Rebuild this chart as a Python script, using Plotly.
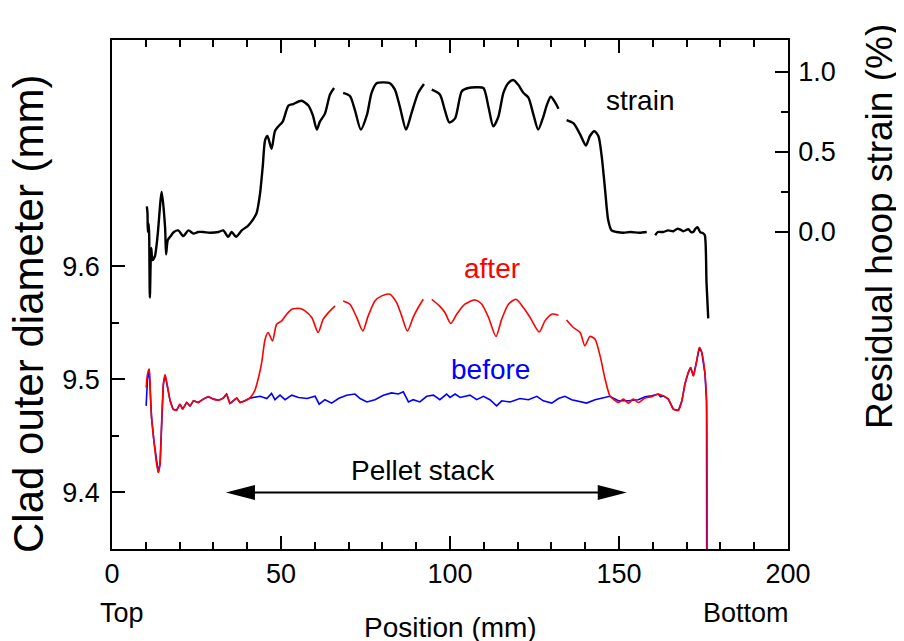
import plotly.graph_objects as go

# ---------------- data ----------------
STRAIN_X = [10.3, 10.5, 10.6, 10.9, 11.2, 11.6, 12.0, 12.7, 13.5, 14.7, 15.7, 16.0, 16.5, 17.2,
            18.3, 19.6, 21.1, 22.6, 24.1, 25.5, 27.0, 29.0, 31.5, 32.9, 34.4, 35.4, 36.7, 38.4,
            40.3, 41.8, 42.8, 43.8, 44.6, 45.3, 46.0, 47.2, 48.2, 49.2, 50.5, 52.2, 53.6, 56.1,
            58.1, 59.4, 60.6, 61.5, 63.0, 64.5, 65.7, 66.9, 68.4, 70.4, 71.9, 73.6, 75.4, 76.8,
            78.3, 80.3, 82.2, 83.7, 85.2, 87.0, 88.7, 90.6, 92.3, 93.4, 94.6, 97.0, 98.5, 99.8,
            101.5, 103.5, 105.4, 107.9, 109.9, 111.4, 112.8, 114.3, 115.8, 117.2, 118.7, 120.2,
            121.7, 123.2, 124.6, 126.1, 127.6, 128.6, 129.8, 131.1, 132.1, 133.3, 134.5, 136.5,
            138.5, 140.2, 141.4, 142.7, 143.9, 144.9, 145.9, 146.8, 147.8, 149.3, 151.3, 153.3,
            156.0, 158.2, 159.5, 160.7, 161.5, 163.1, 164.5, 166.1, 167.2, 168.0, 169.0, 170.5,
            171.3, 172.0, 172.6, 173.2, 174.0, 175.0, 175.4, 175.9, 176.4]
STRAIN_Y = [0.16, 0.12, 0.0, 0.05, -0.41, -0.10, -0.175, -0.15, -0.02, 0.25, 0.03, -0.14, -0.05, -0.03,
            0.0, 0.01, -0.025, 0.01, -0.01, 0.0, 0.0, -0.005, 0.0, 0.01, -0.03, 0.0, -0.03, 0.01,
            0.04, 0.08, 0.12, 0.24, 0.41, 0.575, 0.60, 0.52, 0.63, 0.66, 0.69, 0.79, 0.80, 0.82,
            0.79, 0.73, 0.64, 0.69, 0.74, 0.86, 0.90, None, 0.87, 0.85, 0.76, 0.64, 0.73, 0.87,
            0.93, 0.935, 0.93, 0.89, 0.78, 0.64, 0.75, 0.87, 0.925, None, 0.89, 0.86, 0.76, 0.685,
            0.71, 0.88, 0.90, 0.905, 0.90, 0.78, 0.66, 0.72, 0.87, 0.93, 0.95, 0.92,
            0.87, 0.84, 0.74, 0.64, 0.72, 0.79, 0.845, 0.81, 0.77, None, 0.70, 0.68,
            0.61, 0.54, 0.60, 0.63, 0.60, 0.47, 0.26, 0.075, 0.01, 0.0, -0.005, 0.0,
            -0.005, 0.0, None, -0.02, 0.0, 0.0, 0.01, 0.005, 0.02, 0.017, 0.005, 0.017,
            0.0, 0.0, 0.02, 0.03, 0.0, -0.01, -0.02, -0.32, -0.54]

AFTER_X = [10.1, 10.5, 11.0, 11.4, 11.7, 12.4, 13.2, 13.7, 14.2, 14.7, 15.2, 15.7, 16.4, 17.2,
           18.1, 19.1, 20.1, 20.9, 22.1, 23.1, 24.1, 25.5, 27.0, 28.5, 30.0, 31.5, 32.9, 33.9,
           34.9, 35.9, 36.9, 37.9, 39.3, 40.8, 42.3, 43.3, 44.3, 45.3, 46.2, 47.5, 48.7, 50.2,
           51.7, 53.2, 55.6, 57.1, 59.1, 61.0, 62.5, 64.5, 66.0, 67.2, 68.4, 70.4, 72.4, 74.2,
           75.8, 77.8, 79.8, 82.2, 84.2, 85.7, 87.4, 89.1, 90.6, 92.1, 93.3, 94.6, 97.0, 98.5,
           100.2, 102.0, 104.4, 107.4, 109.4, 111.4, 113.6, 115.3, 117.3, 119.5, 121.7, 123.7,
           126.4, 128.1, 130.1, 132.1, 133.3, 134.5, 136.5, 138.5, 139.9, 141.4, 142.9, 144.4,
           145.9, 147.3, 148.3, 149.8, 151.3, 152.8, 154.2, 155.7, 157.7, 159.7, 161.6, 163.1,
           164.6, 166.1, 167.6, 168.6, 169.5, 170.5, 171.2, 172.0, 172.8, 173.8, 174.5, 175.4,
           175.9, 176.0]
AFTER_Y = [9.4928, 9.5046, 9.5090, 9.4840, 9.4663, 9.4456, 9.4250, 9.4177, 9.4250, 9.4633, 9.4957,
           9.5039, 9.4942, 9.4810, 9.4736, 9.4727, 9.4780, 9.4736, 9.4795, 9.4765, 9.4810, 9.4795,
           9.4825, 9.4846, 9.4825, 9.4816, 9.4834, 9.4869, 9.4787, 9.4810, 9.4834, 9.4795, 9.4810,
           9.4834, 9.4905, 9.5010, 9.5150, 9.5355, 9.5414, 9.5340, 9.5487, 9.5517, 9.5576, 9.5620,
           9.5626, 9.5605, 9.5547, 9.5414, 9.5532, 9.5605, 9.5649, None, 9.5693, 9.5664, 9.5547,
           9.5428, 9.5561, 9.5693, 9.5738, 9.5753, 9.5679, 9.5561, 9.5428, 9.5547, 9.5635, 9.5708,
           None, 9.5708, 9.5645, 9.5591, 9.5494, 9.5576, 9.5664, 9.5702, 9.5664, 9.5547, 9.5379,
           9.5532, 9.5664, 9.5708, 9.5635, 9.5547, 9.5419, 9.5517, 9.5576, 9.5567, None, 9.5525,
           9.5458, 9.5414, 9.5296, 9.5379, 9.5355, 9.5207, 9.5001, 9.4854, 9.4825, 9.4795, 9.4825,
           9.4790, 9.4825, 9.4795, 9.4834, 9.4846, 9.4869, 9.4854, 9.4825, 9.4736, 9.4727, 9.4810,
           9.4957, 9.5060, 9.5105, 9.5030, 9.5134, 9.5281, 9.5237, 9.5060, 9.4810, 9.2000]

BEFORE_X = [10.1, 10.5, 11.0, 11.4, 11.7, 12.4, 13.2, 13.7, 14.2, 14.7, 15.2, 15.7, 16.4, 17.2,
            18.1, 19.1, 20.1, 20.9, 22.1, 23.1, 24.1, 25.5, 27.0, 28.5, 30.0, 31.5, 32.9, 33.9,
            34.9, 35.9, 36.9, 37.9, 39.3, 40.8, 42.3, 43.8, 45.8, 47.2, 48.2, 49.7, 51.2, 53.2,
            55.2, 57.7, 60.1, 61.3, 63.0, 65.0, 67.0, 69.4, 71.9, 73.4, 75.4, 77.8, 80.3, 82.7,
            84.7, 86.2, 87.7, 89.1, 91.1, 93.1, 95.1, 97.0, 99.0, 100.0, 101.5, 103.0, 105.9,
            107.9, 109.9, 111.8, 113.8, 115.3, 117.8, 120.7, 123.2, 125.7, 127.6, 130.1, 132.1,
            134.0, 136.0, 138.5, 140.4, 142.9, 145.4, 147.3, 149.8, 152.8, 155.7, 157.7, 159.7,
            161.6, 162.3, 163.1, 164.6, 166.1, 167.6, 168.6, 169.5, 170.5, 171.2, 172.0, 172.8,
            173.8, 174.5, 175.4, 175.9, 176.0]
BEFORE_Y = [9.4765, 9.5000, 9.5090, 9.4840, 9.4663, 9.4456, 9.4250, 9.4177, 9.4250, 9.4633, 9.4957,
            9.5039, 9.4942, 9.4810, 9.4736, 9.4727, 9.4780, 9.4736, 9.4795, 9.4765, 9.4810, 9.4795,
            9.4825, 9.4846, 9.4825, 9.4816, 9.4834, 9.4869, 9.4787, 9.4810, 9.4834, 9.4795, 9.4810,
            9.4834, 9.4845, 9.4850, 9.4830, 9.4875, 9.4820, 9.4860, 9.4820, 9.4860, 9.4840, 9.4830,
            9.4850, 9.4780, 9.4820, 9.4790, 9.4830, 9.4860, 9.4870, 9.4830, 9.4800, 9.4820, 9.4860,
            9.4880, 9.4870, 9.4890, 9.4800, 9.4820, 9.4800, 9.4850, 9.4860, 9.4820, 9.4870, 9.4840,
            9.4870, 9.4840, 9.4860, 9.4820, 9.4850, 9.4820, 9.4765, 9.4810, 9.4800, 9.4830, 9.4820,
            9.4850, 9.4810, 9.4790, 9.4830, 9.4850, 9.4820, 9.4800, 9.4790, 9.4820, 9.4840, 9.4850,
            9.4810, 9.4810, 9.4820, 9.4845, 9.4855, 9.4870, 9.4845, 9.4854, 9.4825, 9.4736, 9.4727,
            9.4810, 9.4957, 9.5060, 9.5105, 9.5030, 9.5134, 9.5281, 9.5237, 9.5060, 9.4810, 9.2000]

X_TICKS = [0, 50, 100, 150, 200]
X_MINOR = [10, 20, 30, 40, 60, 70, 80, 90, 110, 120, 130, 140, 160, 170, 180, 190]
D_TICKS = [9.4, 9.5, 9.6]
D_TICKTEXT = ["9.4", "9.5", "9.6"]
D_MINOR = [9.45, 9.55]
S_TICKS = [0.0, 0.5, 1.0]
S_TICKTEXT = ["0.0", "0.5", "1.0"]
S_MINOR = [0.25, 0.75]
PELLET_STACK = [33.7, 152.3]   # ends of the pellet-stack arrow (mm)
PELLET_Y = 9.4

FONT = "Liberation Sans, Arial, Helvetica, sans-serif"

fig = go.Figure()
fig.add_trace(go.Scatter(x=BEFORE_X, y=BEFORE_Y, mode="lines", name="before",
                         line=dict(color="#0000ff", width=1.6), yaxis="y"))
fig.add_trace(go.Scatter(x=AFTER_X, y=AFTER_Y, mode="lines", name="after",
                         line=dict(color="#ff0000", width=1.6, shape="spline", smoothing=0.7),
                         yaxis="y"))
fig.add_trace(go.Scatter(x=STRAIN_X, y=STRAIN_Y, mode="lines", name="strain",
                         line=dict(color="#000000", width=2.4, shape="spline", smoothing=0.7),
                         yaxis="y2"))

axis_common = dict(showgrid=False, zeroline=False, showline=True, linecolor="black",
                   linewidth=1.8, ticks="inside", ticklen=13, tickwidth=1.6,
                   tickcolor="black", tickfont=dict(size=27, color="black", family=FONT))

# The page is shown with an 8 px body margin, so the figure is offset by 8 px.
fig.update_layout(
    width=904, height=641, autosize=False,
    margin=dict(l=104, r=124, t=32, b=100),
    paper_bgcolor="white", plot_bgcolor="white",
    showlegend=False,
    font=dict(family=FONT, color="black"),
    xaxis=dict(range=[0, 200], tickmode="array", tickvals=X_TICKS, mirror="ticks",
               minor=dict(tickvals=X_MINOR, ticks="inside", ticklen=7, tickwidth=1.6,
                          tickcolor="black"),
               **axis_common),
    yaxis=dict(range=[9.35, 9.8], tickmode="array", tickvals=D_TICKS, ticktext=D_TICKTEXT,
               ticklabelstandoff=5,
               minor=dict(tickvals=D_MINOR, ticks="inside", ticklen=7, tickwidth=1.6,
                          tickcolor="black"),
               **axis_common),
    yaxis2=dict(range=[-1.981, 1.2], overlaying="y", side="right", tickmode="array",
                tickvals=S_TICKS, ticktext=S_TICKTEXT, ticklabelstandoff=3,
                minor=dict(tickvals=S_MINOR, ticks="inside", ticklen=7, tickwidth=1.6,
                           tickcolor="black"),
                **axis_common),
)

# pellet-stack arrow: shaft plus two elongated filled heads
fig.add_shape(type="line", xref="x", yref="y", x0=PELLET_STACK[0] + 2, x1=PELLET_STACK[1] - 2,
              y0=PELLET_Y, y1=PELLET_Y, line=dict(color="black", width=2))
fig.add_shape(type="path", xref="x", yref="y", xsizemode="pixel", ysizemode="pixel",
              xanchor=PELLET_STACK[0], yanchor=PELLET_Y, path="M0,0 L29,7.5 L29,-7.5 Z",
              fillcolor="black", line=dict(width=0))
fig.add_shape(type="path", xref="x", yref="y", xsizemode="pixel", ysizemode="pixel",
              xanchor=PELLET_STACK[1], yanchor=PELLET_Y, path="M0,0 L-29,7.5 L-29,-7.5 Z",
              fillcolor="black", line=dict(width=0))

def label(text, x, y, size, color="black", xref="x", yref="y", angle=0):
    fig.add_annotation(text=text, x=x, y=y, xref=xref, yref=yref, showarrow=False,
                       textangle=angle, font=dict(size=size, color=color, family=FONT),
                       xanchor="center", yanchor="middle")

label("strain", 156.2, 9.7467, 28)
label("after", 112.3, 9.598, 28, "#ff0000")
label("before", 112.1, 9.509, 28, "#0000ff")
label("Pellet stack", 91.9, 9.4197, 28)
label("Top", 3.1, -0.1257, 27, yref="paper")
label("Bottom", 187.6, -0.1257, 27, yref="paper")
label("Position (mm)", 100, -0.155, 28, yref="paper")
label("Clad outer diameter (mm)", -0.1228, 0.4617, 42, xref="paper", yref="paper", angle=-90)
label("Residual hoop strain (%)", 1.136, 0.6346, 37, xref="paper", yref="paper", angle=-90)

fig.write_html("out.html")
